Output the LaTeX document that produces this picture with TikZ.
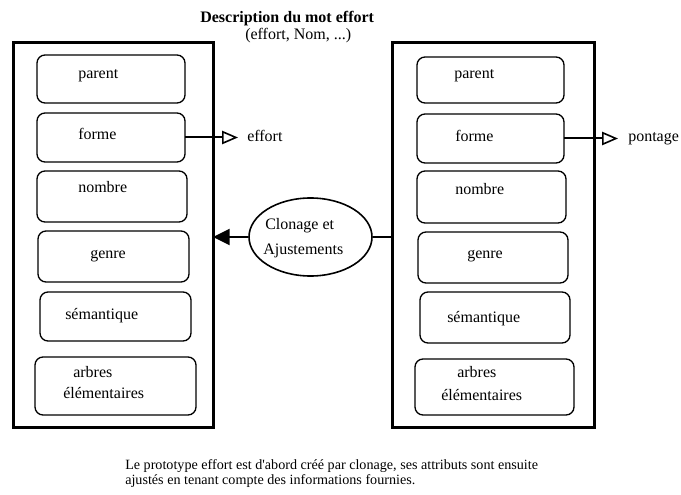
\documentclass[tikz,border=0pt]{standalone}
\usepackage{fontspec}
\setmainfont{Liberation Serif}
\usetikzlibrary{arrows.meta,shapes.geometric}
\begin{document}
\begin{tikzpicture}[x=0.75pt,y=-0.75pt,
  outer/.style={draw,line width=2.25pt,inner sep=0pt,outer sep=0pt},
  field/.style={draw,line width=1pt,rounded corners=6pt,inner sep=0pt,outer sep=0pt},
  lbl/.style={inner sep=0pt,anchor=base west,font=\fontsize{12}{14}\selectfont},
  note/.style={inner sep=0pt,anchor=base west,font=\fontsize{10.6}{12}\selectfont},
  conn/.style={line width=1.5pt},
  openarrow/.style={conn,-{Triangle[open,length=12pt,width=10pt,line width=1.2pt]}},
  fillarrow/.style={conn,-{Triangle[length=12.5pt,width=12pt]}}]
\useasboundingbox (0,0) rectangle (681,495);

% title
\node[lbl,font=\fontsize{12}{14}\selectfont\bfseries] (title) at (200,23) {Description du mot effort};
\node[lbl] (subtitle) at (245,40) {(effort, Nom, ...)};

% the two feature structures
\node[outer,minimum width=150pt,minimum height=288pt] (lout) at (113,235) {};
\node[outer,minimum width=151.5pt,minimum height=288pt] (rout) at (493,235) {};

% left fields
\node[field,minimum width=111pt,minimum height=36pt] (lparent) at (111,79) {};
\node[field,minimum width=111pt,minimum height=36.75pt] (lforme) at (111,137.5) {};
\node[field,minimum width=112.5pt,minimum height=38.25pt] (lnombre) at (112,196.5) {};
\node[field,minimum width=113.25pt,minimum height=38.25pt] (lgenre) at (113.5,256.5) {};
\node[field,minimum width=113.25pt,minimum height=36.75pt] (lsem) at (115.5,316.5) {};
\node[field,minimum width=120.75pt,minimum height=43.5pt] (larbres) at (115.5,386) {};

\node[lbl] (lparentT) at (78,79) {parent};
\node[lbl] (lformeT) at (78,140) {forme};
\node[lbl] (lnombreT) at (78,193) {nombre};
\node[lbl] (lgenreT) at (90,258) {genre};
\node[lbl] (lsemT) at (65,319) {sémantique};
\node[lbl] (larbresT) at (73,377) {arbres};
\node[lbl] (lelemT) at (63,398) {élémentaires};

% right fields
\node[field,minimum width=110.25pt,minimum height=34.5pt] (rparent) at (490.5,80) {};
\node[field,minimum width=110.25pt,minimum height=36.75pt] (rforme) at (490.5,138.5) {};
\node[field,minimum width=111.75pt,minimum height=39pt] (rnombre) at (491.5,197) {};
\node[field,minimum width=112.5pt,minimum height=38.25pt] (rgenre) at (493,257.5) {};
\node[field,minimum width=112.5pt,minimum height=38.25pt] (rsem) at (495,317.5) {};
\node[field,minimum width=119.25pt,minimum height=42pt] (rarbres) at (494.5,387) {};

\node[lbl] (rparentT) at (454,79) {parent};
\node[lbl] (rformeT) at (455,142) {forme};
\node[lbl] (rnombreT) at (455,195) {nombre};
\node[lbl] (rgenreT) at (467,258) {genre};
\node[lbl] (rsemT) at (447,322) {sémantique};
\node[lbl] (rarbresT) at (457,377) {arbres};
\node[lbl] (relemT) at (441,400) {élémentaires};

% form values
\coordinate (ltip) at (238,137.5);
\coordinate (rtip) at (618,138.5);
\draw[openarrow] (lforme.east) -- (ltip);
\draw[openarrow] (rforme.east) -- (rtip);
\node[lbl] (effort) at (247,142) {effort};
\node[lbl] (pontage) at (628,142) {pontage};

% cloning operation
\node[draw,ellipse,line width=1.2pt,inner sep=0pt,minimum width=92.25pt,minimum height=58.5pt] (clone) at (310.5,237) {};
\node[lbl] (cl1) at (265,229) {Clonage et};
\node[lbl] (cl2) at (263,254) {Ajustements};
\draw[fillarrow] (clone.west) -- (clone.west -| lout.east);
\draw[conn] (clone.east) -- (clone.east -| rout.west);

% caption
\node[note] (cap1) at (125,469) {Le prototype effort est d\textquotesingle abord créé par clonage, ses attributs sont ensuite};
\node[note] (cap2) at (125,484) {ajustés en tenant compte des informations fournies.};
\end{tikzpicture}
\end{document}
